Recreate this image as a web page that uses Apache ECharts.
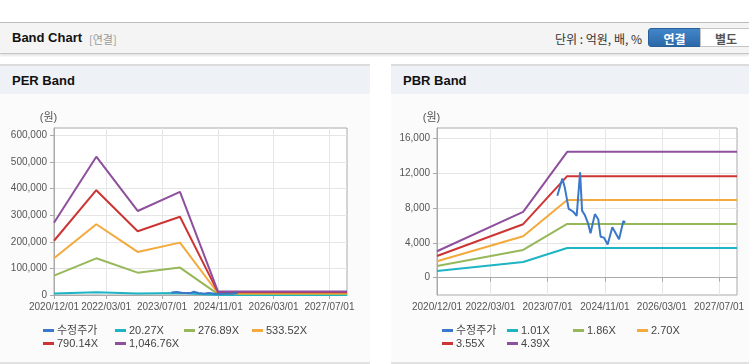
<!DOCTYPE html>
<html>
<head>
<meta charset="utf-8">
<script src="https://cdn.jsdelivr.net/npm/echarts@6/dist/echarts.min.js"></script>
<style>
  body { margin: 0; width: 749px; height: 364px; position: relative; overflow: hidden; background: #fff;
         font-family: "Liberation Sans", "Noto Sans CJK KR", sans-serif; }
  .bar { position: absolute; left: 0; top: 22px; width: 749px; height: 30px; background: #f4f4f4;
         border-top: 1px solid #bdbdbd; border-bottom: 1px solid #c6c6c6; box-shadow: 0 2px 2px rgba(0,0,0,0.10); }
  .bar .title { position: absolute; left: 12px; top: 7px; font-size: 13px; font-weight: bold; color: #111; }
  .bar .sub { position: absolute; left: 89px; top: 8px; font-size: 11px; color: #999; font-family: "Noto Sans CJK KR", sans-serif; }
  .bar .unit { position: absolute; right: 107px; top: 7px; font-size: 12px; color: #333; font-family: "Noto Sans CJK KR", sans-serif; }
  .btn { position: absolute; top: 5px; height: 19px; line-height: 19px; font-size: 12px; font-weight: bold; text-align: center;
         font-family: "Noto Sans CJK KR", sans-serif; box-sizing: border-box; }
  .btn.on { left: 648px; width: 53px; background: linear-gradient(#4286c9, #2b68a8); color: #fff; border: 1px solid #2a5f98; border-radius: 3px 0 0 3px; }
  .btn.off { left: 700px; width: 52px; background: #fff; color: #555; border: 1px solid #c4c4c4; }
  .panel { position: absolute; top: 64px; height: 296px; background: #fbfbfb; border-top: 2px solid #dcdcdc; border-bottom: 2px solid #e2e2e2; }
  .panel .head { height: 28px; background: #eef1f6; }
  .panel .head span { position: absolute; left: 12px; top: 7px; font-size: 13px; font-weight: bold; color: #111; }
  .chart { position: absolute; top: 93px; height: 268px; }
</style>
</head>
<body>
<div class="bar">
  <span class="title">Band Chart</span><span class="sub">[연결]</span>
  <span class="unit">단위 : 억원, 배, %</span>
  <div class="btn on">연결</div><div class="btn off">별도</div>
</div>
<div class="panel" style="left:0;width:370px"><div class="head"><span>PER Band</span></div></div>
<div class="panel" style="left:391px;width:358px"><div class="head"><span>PBR Band</span></div></div>
<div id="per" class="chart" style="left:0;width:370px"></div>
<div id="pbr" class="chart" style="left:391px;width:358px"></div>
<script>
// x axis
var xStart = '2020/12/01', xEnd = '2027/12/01';
var xTickLabels = ['2020/12/01', '2022/03/01', '2023/07/01', '2024/11/01', '2026/03/01', '2027/07/01'];

// 수정주가
var priceDates = ['2023/09/22', '2023/11/04', '2023/11/24', '2023/12/28', '2024/02/03', '2024/03/05', '2024/04/03',
  '2024/04/20', '2024/05/13', '2024/06/11', '2024/07/01', '2024/08/07', '2024/09/05', '2024/09/25', '2024/10/23',
  '2024/11/24', '2025/01/03', '2025/03/01', '2025/04/07', '2025/04/22'];
var priceValues = [9400, 11400, 10400, 7900, 7600, 7100, 12100, 7700, 7200, 6200, 5100, 7300, 6700, 4700, 4600,
  3800, 5800, 4400, 6500, 6300];

// PER band
var perDates = ['2020/12/01', '2021/12/05', '2022/12/01', '2023/12/05', '2024/11/01', '2027/12/01'];
var perNames = ['20.27X', '276.89X', '533.52X', '790.14X', '1,046.76X'];
var per20 = [5300, 10000, 6100, 7500, 250, 250];
var per276 = [73000, 138000, 84000, 103000, 3400, 3400];
var per533 = [138000, 266000, 162000, 197000, 6600, 6600];
var per790 = [204000, 394000, 240000, 294000, 9900, 9900];
var per1046 = [272000, 520000, 316000, 388000, 13000, 13000];
var perYTicks = [0, 100000, 200000, 300000, 400000, 500000, 600000];

// PBR band
var pbrDates = ['2020/12/01', '2022/12/05', '2023/12/15', '2027/12/01'];
var pbrNames = ['1.01X', '1.86X', '2.70X', '3.55X', '4.39X'];
var pbr101 = [760, 1800, 3410, 3410];
var pbr186 = [1340, 3180, 6170, 6170];
var pbr270 = [1880, 4750, 8930, 8930];
var pbr355 = [2490, 6140, 11660, 11660];
var pbr439 = [3030, 7550, 14460, 14460];
var pbrYTicks = [0, 4000, 8000, 12000, 16000];

var colors = ['#3a78c9', '#1db4c4', '#96b85a', '#f3a93b', '#cd3434', '#8e4f9d'];
var font = '"Liberation Sans", "Noto Sans CJK KR", sans-serif';

function toTime(s) {
  var p = s.split('/');
  return new Date(+p[0], +p[1] - 1, +p[2]).getTime();
}
function pad(n) { return n < 10 ? '0' + n : '' + n; }
function fmtDate(v) {
  var d = new Date(v);
  return d.getFullYear() + '/' + pad(d.getMonth() + 1) + '/' + pad(d.getDate());
}
function pairs(dates, values) {
  return dates.map(function (d, i) { return [toTime(d), values[i]]; });
}

function buildOption(cfg) {
  var series = [];
  cfg.bands.forEach(function (vals, i) {
    series.push({
      name: cfg.names[i], type: 'line', showSymbol: false, symbol: 'none',
      lineStyle: { width: 2, color: colors[i + 1] }, itemStyle: { color: colors[i + 1] },
      data: pairs(cfg.dates, vals)
    });
  });
  series.push({
    name: '수정주가', type: 'line', showSymbol: false, symbol: 'none',
    lineStyle: { width: 2, color: colors[0] }, itemStyle: { color: colors[0] },
    data: pairs(priceDates, priceValues)
  });
  var n = cfg.names;
  var cols = [['수정주가', n[3]], [n[0], n[4]], [n[1]], [n[2]]];
  var legends = cols.map(function (c, i) {
    return {
      data: c, orient: 'vertical', left: cfg.legendLeft[i], top: 231, padding: 0, itemGap: 0,
      icon: 'rect', itemWidth: 11, itemHeight: 3, selectedMode: false,
      textStyle: { fontSize: 11, color: '#444', fontFamily: font, lineHeight: 13, padding: [0, 0, 0, -2] }
    };
  });
  var xTicks = xTickLabels.map(toTime);
  return {
    animation: false,
    grid: { left: cfg.gridLeft, right: cfg.gridRight, top: 35, bottom: 66, show: true,
      backgroundColor: '#fff', borderColor: '#aaa', borderWidth: 1 },
    legend: legends,
    xAxis: {
      type: 'value', min: toTime(xStart), max: toTime(xEnd),
      axisLine: { lineStyle: { color: '#aaa' } },
      axisTick: { show: true, length: 4, lineStyle: { color: '#aaa' }, customValues: xTicks },
      axisLabel: { customValues: xTicks, formatter: fmtDate, fontSize: 10, color: '#555', margin: 7, fontFamily: font },
      splitLine: { show: true, lineStyle: { color: '#e6e6e6' } }
    },
    yAxis: {
      type: 'value', min: cfg.yMin, max: cfg.yMax,
      name: '(원)', nameLocation: 'end', nameGap: 5,
      nameTextStyle: { fontSize: 11, color: '#555', fontFamily: font, padding: [0, 11, 0, 0] },
      axisLine: { show: true, lineStyle: { color: '#aaa' } },
      axisTick: { show: true, length: 4, lineStyle: { color: '#aaa' }, customValues: cfg.yTicks },
      axisLabel: { customValues: cfg.yTicks, fontSize: 10, color: '#555', margin: 7, fontFamily: font,
        formatter: function (v) { return v.toLocaleString('en-US'); } },
      splitLine: { show: true, lineStyle: { color: '#e6e6e6' } }
    },
    series: series
  };
}

var perChart = echarts.init(document.getElementById('per'));
perChart.setOption(buildOption({
  names: perNames, dates: perDates, bands: [per20, per276, per533, per790, per1046],
  yMin: 0, yMax: 628000, yTicks: perYTicks, gridLeft: 54, gridRight: 23, legendLeft: [43, 115, 184, 252]
}));

var pbrChart = echarts.init(document.getElementById('pbr'));
pbrChart.setOption(buildOption({
  names: pbrNames, dates: pbrDates, bands: [pbr101, pbr186, pbr270, pbr355, pbr439],
  yMin: -2000, yMax: 17200, yTicks: pbrYTicks, gridLeft: 46, gridRight: 12, legendLeft: [51, 116, 182, 246]
}));
</script>
</body>
</html>
